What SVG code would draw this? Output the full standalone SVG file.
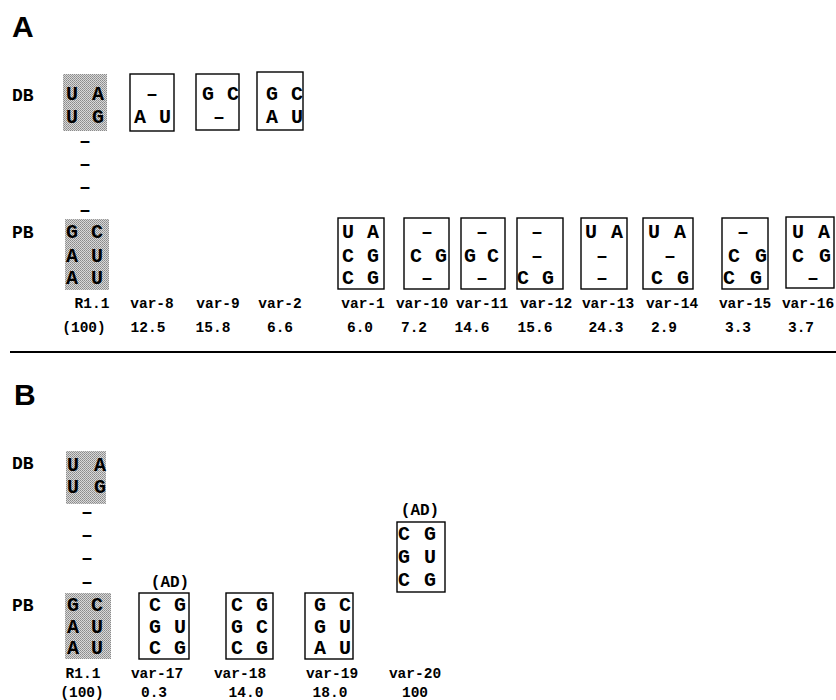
<svg xmlns="http://www.w3.org/2000/svg" width="836" height="700" viewBox="0 0 836 700">
<defs>
<pattern id="stip" width="2" height="2" patternUnits="userSpaceOnUse">
<rect width="2" height="2" fill="#d8d8d8"/>
<rect width="1" height="1" fill="#8a8a8a"/>
<rect x="1" y="1" width="1" height="1" fill="#9a9a9a"/>
</pattern>
</defs>
<style>
.pl{font-family:"Liberation Sans",Arial,sans-serif;font-weight:bold;font-size:30px;fill:#000}
.rl{font-family:"Liberation Mono","Courier New",monospace;font-weight:bold;font-size:18px;fill:#000}
.n{font-family:"Liberation Mono","Courier New",monospace;font-weight:bold;font-size:20px;fill:#000;text-anchor:middle}
.lb{font-family:"Liberation Mono","Courier New",monospace;font-weight:bold;font-size:14.5px;fill:#000;text-anchor:middle}
.ad{font-family:"Liberation Mono","Courier New",monospace;font-weight:bold;font-size:16px;fill:#000;text-anchor:middle}
.bx{fill:#fff;stroke:#000;stroke-width:1.4}
.gr{fill:url(#stip);stroke:none}
</style>
<rect width="836" height="700" fill="#fff"/>

<text class="pl" x="12" y="37">A</text>
<text class="rl" x="12" y="101">DB</text>
<text class="rl" x="12" y="238">PB</text>

<g id="a-r11">
<rect class="gr" x="63" y="74" width="44" height="57"/>
<text class="n" x="72" y="100">U</text><text class="n" x="98" y="100">A</text>
<text class="n" x="72" y="123">U</text><text class="n" x="98" y="123">G</text>
<text class="n" x="85" y="147">–</text>
<text class="n" x="85" y="170">–</text>
<text class="n" x="85" y="193">–</text>
<text class="n" x="85" y="216">–</text>
<rect class="gr" x="65" y="219" width="44" height="71"/>
<text class="n" x="72" y="238">G</text><text class="n" x="97" y="238">C</text>
<text class="n" x="72" y="262">A</text><text class="n" x="97" y="262">U</text>
<text class="n" x="72" y="284">A</text><text class="n" x="97" y="284">U</text>
<text class="lb" x="92" y="308">R1.1</text>
<text class="lb" x="84" y="332">(100)</text>
</g>

<g id="a-var8">
<rect class="bx" x="130" y="74" width="44" height="57"/>
<text class="n" x="152" y="100">–</text>
<text class="n" x="140" y="123">A</text><text class="n" x="165" y="123">U</text>
<text class="lb" x="152" y="308">var-8</text>
<text class="lb" x="148" y="332">12.5</text>
</g>

<g id="a-var9">
<rect class="bx" x="196" y="74" width="43" height="56"/>
<text class="n" x="208" y="100">G</text><text class="n" x="233" y="100">C</text>
<text class="n" x="219" y="123">–</text>
<text class="lb" x="218" y="308">var-9</text>
<text class="lb" x="213" y="332">15.8</text>
</g>

<g id="a-var2">
<rect class="bx" x="257" y="72" width="46" height="58"/>
<text class="n" x="272" y="100">G</text><text class="n" x="297" y="100">C</text>
<text class="n" x="272" y="123">A</text><text class="n" x="297" y="123">U</text>
<text class="lb" x="280" y="308">var-2</text>
<text class="lb" x="280" y="332">6.6</text>
</g>

<g id="a-var1">
<rect class="bx" x="338" y="218" width="46" height="71"/>
<text class="n" x="348" y="238">U</text><text class="n" x="373" y="238">A</text>
<text class="n" x="348" y="262">C</text><text class="n" x="373" y="262">G</text>
<text class="n" x="348" y="284">C</text><text class="n" x="373" y="284">G</text>
<text class="lb" x="363" y="308">var-1</text>
<text class="lb" x="360" y="332">6.0</text>
</g>

<g id="a-var10">
<rect class="bx" x="404" y="218" width="45" height="71"/>
<text class="n" x="427" y="238">–</text>
<text class="n" x="416" y="262">C</text><text class="n" x="441" y="262">G</text>
<text class="n" x="427" y="284">–</text>
<text class="lb" x="422" y="308">var-10</text>
<text class="lb" x="414" y="332">7.2</text>
</g>

<g id="a-var11">
<rect class="bx" x="461" y="218" width="44" height="71"/>
<text class="n" x="482" y="238">–</text>
<text class="n" x="470" y="262">G</text><text class="n" x="493" y="262">C</text>
<text class="n" x="482" y="284">–</text>
<text class="lb" x="482" y="308">var-11</text>
<text class="lb" x="472" y="332">14.6</text>
</g>

<g id="a-var12">
<rect class="bx" x="517" y="218" width="46" height="71"/>
<text class="n" x="537" y="238">–</text>
<text class="n" x="537" y="262">–</text>
<text class="n" x="523" y="284">C</text><text class="n" x="548" y="284">G</text>
<text class="lb" x="546" y="308">var-12</text>
<text class="lb" x="535" y="332">15.6</text>
</g>

<g id="a-var13">
<rect class="bx" x="581" y="218" width="46" height="71"/>
<text class="n" x="591" y="238">U</text><text class="n" x="617" y="238">A</text>
<text class="n" x="602" y="262">–</text>
<text class="n" x="602" y="284">–</text>
<text class="lb" x="608" y="308">var-13</text>
<text class="lb" x="606" y="332">24.3</text>
</g>

<g id="a-var14">
<rect class="bx" x="643" y="218" width="50" height="71"/>
<text class="n" x="654" y="238">U</text><text class="n" x="680" y="238">A</text>
<text class="n" x="670" y="262">–</text>
<text class="n" x="657" y="284">C</text><text class="n" x="683" y="284">G</text>
<text class="lb" x="672" y="308">var-14</text>
<text class="lb" x="664" y="332">2.9</text>
</g>

<g id="a-var15">
<rect class="bx" x="722" y="218" width="46" height="71"/>
<text class="n" x="743" y="238">–</text>
<text class="n" x="734" y="262">C</text><text class="n" x="761" y="262">G</text>
<text class="n" x="729" y="284">C</text><text class="n" x="756" y="284">G</text>
<text class="lb" x="745" y="308">var-15</text>
<text class="lb" x="738" y="332">3.3</text>
</g>

<g id="a-var16">
<rect class="bx" x="786" y="217" width="48" height="71"/>
<text class="n" x="798" y="238">U</text><text class="n" x="824" y="238">A</text>
<text class="n" x="798" y="262">C</text><text class="n" x="825" y="262">G</text>
<text class="n" x="813" y="284">–</text>
<text class="lb" x="808" y="308">var-16</text>
<text class="lb" x="801" y="332">3.7</text>
</g>

<line x1="10" y1="352" x2="836" y2="352" stroke="#000" stroke-width="2"/>

<text class="pl" x="14" y="405">B</text>
<text class="rl" x="12" y="469">DB</text>
<text class="rl" x="12" y="611">PB</text>

<g id="b-r11">
<rect class="gr" x="66" y="451" width="40" height="53"/>
<text class="n" x="73" y="471">U</text><text class="n" x="100" y="471">A</text>
<text class="n" x="73" y="493">U</text><text class="n" x="100" y="493">G</text>
<text class="n" x="87" y="518">–</text>
<text class="n" x="87" y="541">–</text>
<text class="n" x="87" y="564">–</text>
<text class="n" x="87" y="588">–</text>
<rect class="gr" x="65" y="593" width="46" height="66"/>
<text class="n" x="73" y="611">G</text><text class="n" x="97" y="611">C</text>
<text class="n" x="73" y="633">A</text><text class="n" x="97" y="633">U</text>
<text class="n" x="73" y="654">A</text><text class="n" x="97" y="654">U</text>
<text class="lb" x="83" y="678">R1.1</text>
<text class="lb" x="82" y="697">(100)</text>
</g>

<g id="b-var17">
<text class="ad" x="170" y="587">(AD)</text>
<rect class="bx" x="139" y="593" width="50" height="66"/>
<text class="n" x="155" y="611">C</text><text class="n" x="180" y="611">G</text>
<text class="n" x="155" y="633">G</text><text class="n" x="180" y="633">U</text>
<text class="n" x="155" y="654">C</text><text class="n" x="180" y="654">G</text>
<text class="lb" x="157" y="678">var-17</text>
<text class="lb" x="154" y="697">0.3</text>
</g>

<g id="b-var18">
<rect class="bx" x="226" y="593" width="47" height="66"/>
<text class="n" x="237" y="611">C</text><text class="n" x="262" y="611">G</text>
<text class="n" x="237" y="633">G</text><text class="n" x="262" y="633">C</text>
<text class="n" x="237" y="654">C</text><text class="n" x="262" y="654">G</text>
<text class="lb" x="240" y="678">var-18</text>
<text class="lb" x="246" y="697">14.0</text>
</g>

<g id="b-var19">
<rect class="bx" x="305" y="593" width="48" height="66"/>
<text class="n" x="320" y="611">G</text><text class="n" x="345" y="611">C</text>
<text class="n" x="320" y="633">G</text><text class="n" x="345" y="633">U</text>
<text class="n" x="320" y="654">A</text><text class="n" x="345" y="654">U</text>
<text class="lb" x="332" y="678">var-19</text>
<text class="lb" x="330" y="697">18.0</text>
</g>

<g id="b-var20">
<text class="ad" x="420" y="515">(AD)</text>
<rect class="bx" x="397" y="522" width="48" height="70"/>
<text class="n" x="404" y="540">C</text><text class="n" x="430" y="540">G</text>
<text class="n" x="404" y="563">G</text><text class="n" x="430" y="563">U</text>
<text class="n" x="404" y="586">C</text><text class="n" x="430" y="586">G</text>
<text class="lb" x="415" y="678">var-20</text>
<text class="lb" x="415" y="697">100</text>
</g>

<g id="connectors"></g>
</svg>
